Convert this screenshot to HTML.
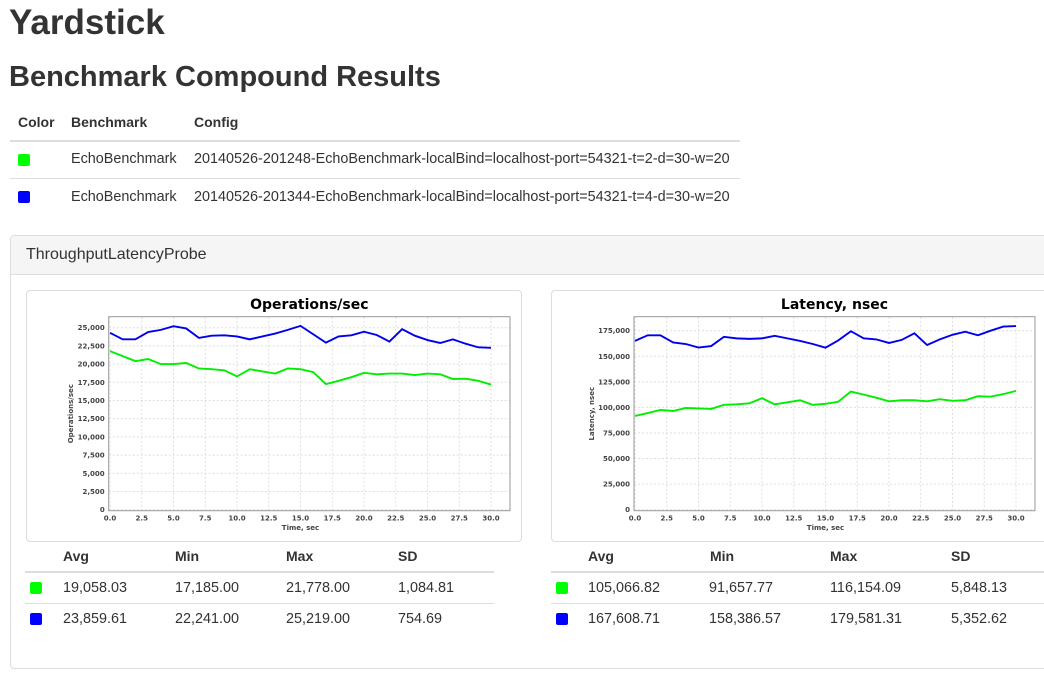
<!DOCTYPE html>
<html><head><meta charset="utf-8">
<style>
body{margin:0;width:1044px;height:677px;overflow:hidden;background:#fff;font-family:"Liberation Sans",Arial,sans-serif;color:#333;position:relative}
.a{position:absolute;white-space:nowrap}
h1,h2{margin:0;font-weight:bold}
.hl{position:absolute;height:1px;background:#ddd}
.sw{position:absolute;width:12px;height:12px;border-radius:2px}
.th{font-weight:bold;font-size:14px}
.td{font-size:14.4px}
</style></head><body>
<h1 class="a" style="left:9px;top:3px;font-size:35px;">Yardstick</h1>
<h2 class="a" style="left:9px;top:61px;font-size:29px;">Benchmark Compound Results</h2>

<div>
<div class="a th" style="left:18px;top:114px">Color</div>
<div class="a th" style="left:71px;top:114px">Benchmark</div>
<div class="a th" style="left:194px;top:114px">Config</div>
<div class="hl" style="left:10px;top:140px;width:730px;height:2px"></div>
<div class="sw" style="left:18px;top:154px;background:#0f0"></div>
<div class="a td" style="left:71px;top:151px">EchoBenchmark</div>
<div class="a td" style="left:194px;top:151px">20140526-201248-EchoBenchmark-localBind=localhost-port=54321-t=2-d=30-w=20</div>
<div class="hl" style="left:10px;top:178px;width:730px"></div>
<div class="sw" style="left:18px;top:191px;background:#00f"></div>
<div class="a td" style="left:71px;top:189px">EchoBenchmark</div>
<div class="a td" style="left:194px;top:189px">20140526-201344-EchoBenchmark-localBind=localhost-port=54321-t=4-d=30-w=20</div>
</div>

<div style="position:absolute;left:10px;top:235px;width:1050px;height:432px;border:1px solid #ddd;border-radius:4px">
<div style="height:38px;background:#f5f5f5;border-bottom:1px solid #ddd;border-radius:4px 4px 0 0"></div>
</div>
<div class="a" style="left:26px;top:246px;font-size:16px">ThroughputLatencyProbe</div>

<div style="position:absolute;left:26px;top:290px;width:494px;height:250px;border:1px solid #ddd;border-radius:4px;background:#fff"></div>
<div style="position:absolute;left:551px;top:290px;width:500px;height:250px;border:1px solid #ddd;border-radius:4px;background:#fff"></div>
<svg id="svg" width="1044" height="677" style="position:absolute;left:0;top:0"></svg>

<div>
<div class="a th" style="left:63px;top:548px">Avg</div><div class="a th" style="left:175px;top:548px">Min</div><div class="a th" style="left:286px;top:548px">Max</div><div class="a th" style="left:398px;top:548px">SD</div>
<div class="hl" style="left:25px;top:571px;width:469px;height:2px"></div>
<div class="sw" style="left:30px;top:582px;background:#0f0"></div>
<div class="a td" style="left:63px;top:580px">19,058.03</div><div class="a td" style="left:175px;top:580px">17,185.00</div><div class="a td" style="left:286px;top:580px">21,778.00</div><div class="a td" style="left:398px;top:580px">1,084.81</div>
<div class="hl" style="left:25px;top:603px;width:469px"></div>
<div class="sw" style="left:30px;top:613px;background:#00f"></div>
<div class="a td" style="left:63px;top:611px">23,859.61</div><div class="a td" style="left:175px;top:611px">22,241.00</div><div class="a td" style="left:286px;top:611px">25,219.00</div><div class="a td" style="left:398px;top:611px">754.69</div>
</div>
<div>
<div class="a th" style="left:588px;top:548px">Avg</div><div class="a th" style="left:710px;top:548px">Min</div><div class="a th" style="left:830px;top:548px">Max</div><div class="a th" style="left:951px;top:548px">SD</div>
<div class="hl" style="left:551px;top:571px;width:493px;height:2px"></div>
<div class="sw" style="left:556px;top:582px;background:#0f0"></div>
<div class="a td" style="left:588px;top:580px">105,066.82</div><div class="a td" style="left:709px;top:580px">91,657.77</div><div class="a td" style="left:830px;top:580px">116,154.09</div><div class="a td" style="left:951px;top:580px">5,848.13</div>
<div class="hl" style="left:551px;top:603px;width:493px"></div>
<div class="sw" style="left:556px;top:613px;background:#00f"></div>
<div class="a td" style="left:588px;top:611px">167,608.71</div><div class="a td" style="left:709px;top:611px">158,386.57</div><div class="a td" style="left:830px;top:611px">179,581.31</div><div class="a td" style="left:951px;top:611px">5,352.62</div>
</div>

<script>
const times=[0,1,2,3,4,5,6,7,8,9,10,11,12,13,14,15,16,17,18,19,20,21,22,23,24,25,26,27,28,29,30];
const xTicks=[0,2.5,5,7.5,10,12.5,15,17.5,20,22.5,25,27.5,30];
const opsBlue=[24300,23400,23400,24400,24700,25200,24900,23600,23900,23950,23800,23400,23800,24200,24700,25250,24100,22950,23800,23950,24450,24000,23100,24800,23900,23300,22900,23400,22800,22300,22241];
const opsGreen=[21778,21100,20400,20700,20000,20000,20150,19400,19300,19150,18300,19300,19000,18700,19400,19300,18900,17250,17700,18200,18800,18600,18700,18700,18500,18700,18600,17950,18000,17700,17185];
const opsTicks=[0,2500,5000,7500,10000,12500,15000,17500,20000,22500,25000];
const latBlue=[165000,170500,170500,163500,162000,158500,160000,169000,167500,167000,167500,170000,167500,165000,162000,158400,165500,174500,167500,166500,163000,166000,172500,161000,166500,171000,174000,170500,175000,179000,179581];
const latGreen=[91658,94500,97500,96500,99500,99000,98500,102500,103000,104000,109000,103000,105000,107000,102500,103500,105500,115500,112500,109500,106000,107000,107000,106000,108000,106500,107000,111000,110500,113000,116154];
const latTicks=[0,25000,50000,75000,100000,125000,150000,175000];

const svg=document.getElementById('svg');
const NS='http://www.w3.org/2000/svg';
function mk(tag,at,txt){const e=document.createElementNS(NS,tag);for(const k in at)e.setAttribute(k,at[k]);if(txt!==undefined)e.textContent=txt;svg.appendChild(e);return e;}
function fmt(v){return v.toLocaleString('en-US');}
function chart(o){
  const L=o.left,R=o.right,T=316.7,B=510.7;
  const xs=t=>o.x0+(t-0)*(o.x30-o.x0)/30;
  const ys=v=>509.7-v*(509.7-o.yRef)/o.refVal;
  const t=mk('text',{x:(L+R)/2,y:309,'text-anchor':'middle','font-size':'14','font-weight':'bold',fill:'#000','font-family':'DejaVu Sans, sans-serif'},o.title);
  
  
  for(const v of o.yTicks){const y=ys(v);
    const g=mk('line',{x1:L,x2:R,y1:y,y2:y,stroke:'#ddd','stroke-dasharray':'2,2','stroke-width':'1'});
    
    
    const l=mk('text',{x:L-4,y:y+2.5,'text-anchor':'end','font-size':'7','font-weight':'bold',fill:'#444','font-family':'DejaVu Sans, sans-serif'},fmt(v));
    
    }
  for(const v of xTicks){const x=xs(v);
    const g=mk('line',{x1:x,x2:x,y1:T,y2:B,stroke:'#ddd','stroke-dasharray':'2,2','stroke-width':'1'});
    
    
    const l=mk('text',{x:x,y:B+10,'text-anchor':'middle','font-size':'7','font-weight':'bold',fill:'#444','font-family':'DejaVu Sans, sans-serif'},v.toFixed(1));
    
    }
  const fr=mk('rect',{x:L,y:T,width:R-L,height:B-T,fill:'none',stroke:'#999','stroke-width':'1'});
  
  
  const xt=mk('text',{x:(o.x0+o.x30)/2,y:530,'text-anchor':'middle','font-size':'7','font-weight':'bold',fill:'#444','font-family':'DejaVu Sans, sans-serif'},'Time, sec');
  
  
  const yt=mk('text',{x:0,y:0,transform:`translate(${o.ytx},${(T+B)/2}) rotate(-90)`,'text-anchor':'middle','font-size':'7','font-weight':'bold',fill:'#444','font-family':'DejaVu Sans, sans-serif'},o.ylabel);
  
  
  [[o.green,'#00ee00','green'],[o.blue,'#0000ee','blue']].forEach(([arr,c,n])=>{
    const p=mk('polyline',{points:arr.map((v,i)=>xs(times[i])+','+ys(v)).join(' '),fill:'none',stroke:c,'stroke-width':'1.9'});
    
    
  });
}
chart({id:'ops',title:'Operations/sec',ylabel:'Operations/sec',left:108.7,right:510,x0:110,x30:491,yRef:327.7,refVal:25000,yTicks:opsTicks,blue:opsBlue,green:opsGreen,ytx:73});
chart({id:'latency',title:'Latency, nsec',ylabel:'Latency, nsec',left:634,right:1035,x0:635,x30:1016,yRef:330.7,refVal:175000,yTicks:latTicks,blue:latBlue,green:latGreen,ytx:594});
</script>
</body></html>
